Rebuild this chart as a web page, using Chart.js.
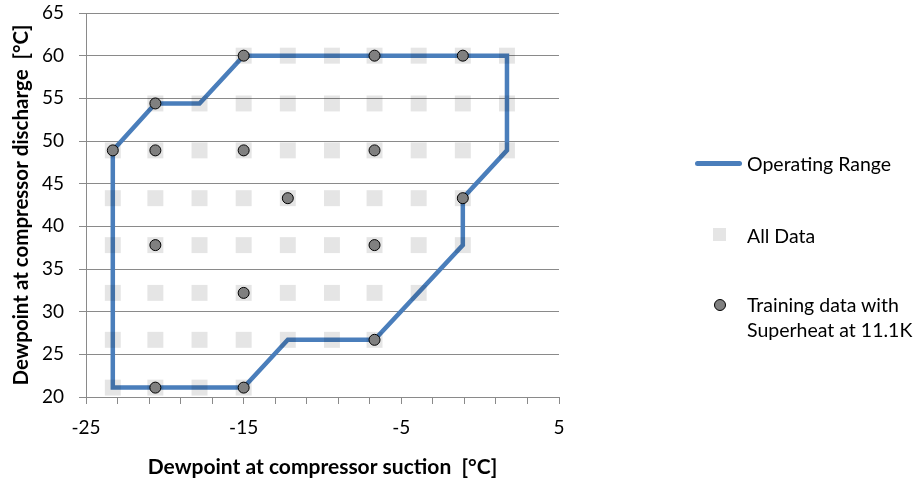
<!DOCTYPE html>
<html>
<head>
<meta charset="utf-8">
<script src="https://cdn.jsdelivr.net/npm/chart.js@4"></script>
<style>
  html, body { margin: 0; padding: 0; background: #fff; }
  #wrap { position: relative; width: 917px; height: 480px; font-family: Lato, "Open Sans", sans-serif; }
  #chart { position: absolute; left: 0; top: 0; }
  .lg-text { position: absolute; left: 747px; font-size: 19.5px; line-height: 25px; color: #000; white-space: nowrap; }
  .lg-line { position: absolute; left: 695px; width: 47px; height: 5px; border-radius: 3px; background: #4a7ebb; }
  .lg-rect { position: absolute; left: 713px; width: 13px; height: 13px; background: #e5e5e5; }
  .lg-dot { position: absolute; left: 714px; width: 10px; height: 10px; border-radius: 50%; background: #808080; border: 1px solid #000; }
</style>
</head>
<body>
<div id="wrap">
  <canvas id="chart" width="917" height="480"></canvas>
  <div class="lg-line" style="top:161px"></div>
  <div class="lg-text" style="top:151px">Operating Range</div>
  <div class="lg-rect" style="top:228px"></div>
  <div class="lg-text" style="top:223px">All Data</div>
  <div class="lg-dot" style="top:299px"></div>
  <div class="lg-text" style="top:292px">Training data with<br>Superheat at 11.1K</div>
</div>
<script>
// Operating envelope outline (closed polygon), °C
const envelopeSuction   = [-23.3, -20.6, -17.8, -15.0, 1.7, 1.7, -1.1, -1.1, -6.7, -12.2, -15.0, -23.3, -23.3];
const envelopeDischarge = [ 48.9,  54.4,  54.4,  60.0, 60.0, 48.9, 43.3, 37.8, 26.7, 26.7, 21.1, 21.1, 48.9];

// Full measurement set, °C
const allSuction = [
  -15.0, -12.2, -9.4, -6.7, -3.9, -1.1, 1.7,
  -20.6, -17.8, -15.0, -12.2, -9.4, -6.7, -3.9, -1.1, 1.7,
  -23.3, -20.6, -17.8, -15.0, -12.2, -9.4, -6.7, -3.9, -1.1, 1.7,
  -23.3, -20.6, -17.8, -15.0, -12.2, -9.4, -6.7, -3.9, -1.1,
  -23.3, -20.6, -17.8, -15.0, -12.2, -9.4, -6.7, -3.9, -1.1,
  -23.3, -20.6, -17.8, -15.0, -12.2, -9.4, -6.7, -3.9,
  -23.3, -20.6, -17.8, -15.0, -12.2, -9.4, -6.7,
  -23.3, -20.6, -17.8, -15.0
];
const allDischarge = [
  60.0, 60.0, 60.0, 60.0, 60.0, 60.0, 60.0,
  54.4, 54.4, 54.4, 54.4, 54.4, 54.4, 54.4, 54.4, 54.4,
  48.9, 48.9, 48.9, 48.9, 48.9, 48.9, 48.9, 48.9, 48.9, 48.9,
  43.3, 43.3, 43.3, 43.3, 43.3, 43.3, 43.3, 43.3, 43.3,
  37.8, 37.8, 37.8, 37.8, 37.8, 37.8, 37.8, 37.8, 37.8,
  32.2, 32.2, 32.2, 32.2, 32.2, 32.2, 32.2, 32.2,
  26.7, 26.7, 26.7, 26.7, 26.7, 26.7, 26.7,
  21.1, 21.1, 21.1, 21.1
];

// Training subset (superheat 11.1 K), °C
const trainSuction   = [-20.6, -15.0, -6.7, -1.1, -23.3, -20.6, -15.0, -6.7, -12.2, -1.1, -20.6, -6.7, -15.0, -6.7, -20.6, -15.0];
const trainDischarge = [ 54.4,  60.0, 60.0, 60.0,  48.9,  48.9,  48.9, 48.9,  43.3, 43.3,  37.8, 37.8,  32.2, 26.7,  21.1,  21.1];

// Axis settings
const xMin = -25, xMax = 5, xStep = 2, xLabelEvery = 10;
const yMin = 20, yMax = 65, yStep = 5;

const toPoints = (xs, ys) => xs.map((x, i) => ({ x: x, y: ys[i] }));

const gridGray = '#8a8a8a';
const tickFont = { family: 'Lato', size: 19 };
const xTitleFont = { family: 'Lato', size: 21, weight: 'bold' };
const yTitleFont = { family: 'Lato', size: 20.5, weight: 'bold' };

new Chart(document.getElementById('chart'), {
  type: 'scatter',
  data: {
    datasets: [
      {
        label: 'Training data with Superheat at 11.1K',
        data: toPoints(trainSuction, trainDischarge),
        order: 1,
        pointRadius: 5.5,
        pointHoverRadius: 5.5,
        pointBackgroundColor: '#808080',
        pointBorderColor: '#000000',
        pointBorderWidth: 1
      },
      {
        label: 'All Data',
        data: toPoints(allSuction, allDischarge),
        order: 2,
        pointStyle: 'rect',
        pointRadius: 11.3,
        pointHoverRadius: 11.3,
        pointBackgroundColor: 'rgba(0,0,0,0.1)',
        pointBorderWidth: 0
      },
      {
        label: 'Operating Range',
        data: toPoints(envelopeSuction, envelopeDischarge),
        order: 3,
        showLine: true,
        borderColor: '#4a7ebb',
        borderWidth: 4.5,
        pointRadius: 0,
        pointHoverRadius: 0,
        tension: 0
      }
    ]
  },
  options: {
    responsive: false,
    animation: false,
    devicePixelRatio: 1,
    layout: { padding: { top: 13, right: 358, left: 0, bottom: 0 } },
    plugins: {
      legend: { display: false },
      tooltip: { enabled: false }
    },
    scales: {
      x: {
        type: 'linear',
        min: xMin, max: xMax,
        afterFit: (s) => { s.height = 83; },
        ticks: {
          stepSize: xStep,
          autoSkip: false,
          maxRotation: 0,
          padding: 12,
          color: '#000',
          font: tickFont,
          callback: (v) => (Math.round(v - xMin) % xLabelEvery === 0 ? String(Math.round(v)) : '')
        },
        grid: { drawOnChartArea: false, drawTicks: true, tickLength: 7, color: gridGray, lineWidth: 1 },
        border: { display: true, color: gridGray, width: 1 },
        title: {
          display: true,
          text: 'Dewpoint at compressor suction  [°C]',
          color: '#000',
          font: xTitleFont,
          padding: { top: 1, bottom: 0 }
        }
      },
      y: {
        type: 'linear',
        min: yMin, max: yMax,
        afterFit: (s) => { s.width = 86; s.paddingTop = 0; s.paddingBottom = 0; },
        ticks: {
          stepSize: yStep,
          padding: 15,
          color: '#000',
          font: tickFont
        },
        grid: { drawTicks: true, tickLength: 7, color: gridGray, lineWidth: 1 },
        border: { display: true, color: gridGray, width: 1 },
        title: {
          display: true,
          text: 'Dewpoint at compressor discharge  [°C]',
          color: '#000',
          font: yTitleFont,
          padding: { top: 9, bottom: 0 }
        }
      }
    }
  }
});
</script>
</body>
</html>
